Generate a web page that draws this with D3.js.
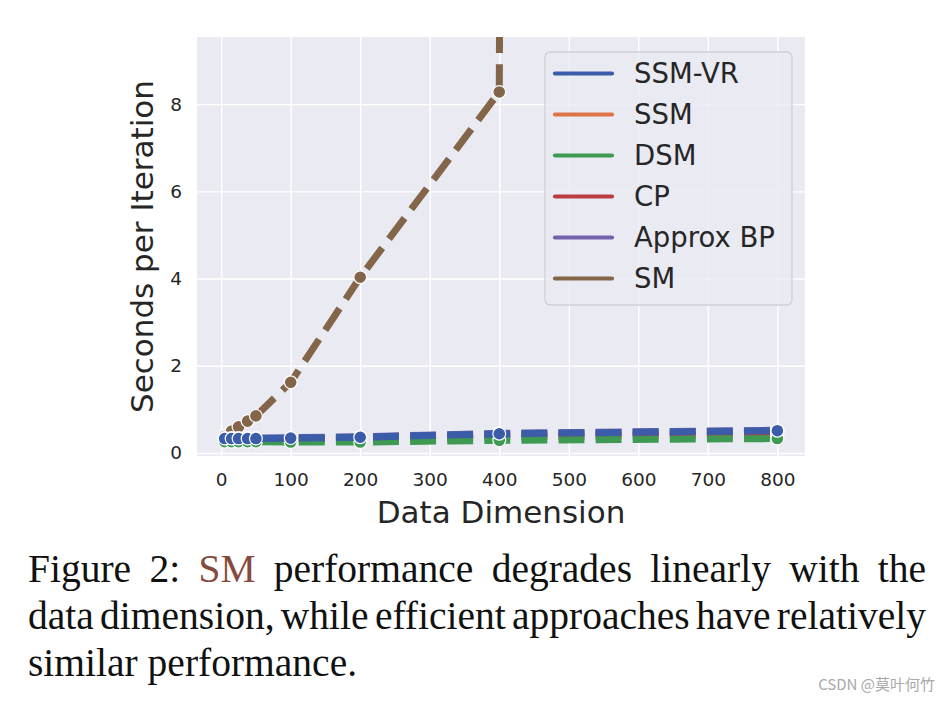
<!DOCTYPE html>
<html>
<head>
<meta charset="utf-8">
<script src="https://cdn.jsdelivr.net/npm/d3@7"></script>
<style>
  html, body { margin: 0; padding: 0; background: #ffffff; }
  svg { display: block; }
</style>
</head>
<body>
<svg id="chart" width="950" height="702"></svg>
<script>
// ---------------- data ----------------
const dims = [5, 15, 25, 38, 50, 100, 200, 400, 800];
const ssmVR   = [0.33, 0.33, 0.33, 0.33, 0.33, 0.34, 0.36, 0.44, 0.51];
const ssm     = [0.32, 0.32, 0.32, 0.32, 0.32, 0.33, 0.35, 0.43, 0.49];
const dsm     = [0.26, 0.26, 0.26, 0.26, 0.26, 0.25, 0.25, 0.29, 0.33];
const cp      = [0.30, 0.30, 0.30, 0.30, 0.30, 0.30, 0.31, 0.37, 0.42];
const approxBP= [0.34, 0.34, 0.34, 0.34, 0.34, 0.35, 0.37, 0.45, 0.52];
const sm      = [0.38, 0.50, 0.60, 0.73, 0.85, 1.62, 4.03, 8.28, 1500];
const seriesNames = ["SSM-VR", "SSM", "DSM", "CP", "Approx BP", "SM"];
const seriesColors = ["#3b5ca8", "#dd7446", "#3e9a52", "#bb3c42", "#7563ad", "#836549"];
const xTicks = [0, 100, 200, 300, 400, 500, 600, 700, 800];
const yTicks = [0, 2, 4, 6, 8];
const xLabel = "Data Dimension";
const yLabel = "Seconds per Iteration";
const captionLines = [
  [["Figure", 0], ["2:", 0], ["SM", 1], ["performance", 0], ["degrades", 0], ["linearly", 0], ["with", 0], ["the", 0]],
  [["data", 0], ["dimension,", 0], ["while", 0], ["efficient", 0], ["approaches", 0], ["have", 0], ["relatively", 0]],
  [["similar", 0], ["performance.", 0]]
];
const watermark = "CSDN @莫叶何竹";

// ---------------- layout ----------------
const svg = d3.select("#chart");
const P = { left: 197, right: 805, top: 37, bottom: 456 };
const x = d3.scaleLinear().domain([-34.75, 839.75]).range([P.left, P.right]);
const y = d3.scaleLinear().domain([-0.07, 9.54]).range([P.bottom, P.top]);

svg.append("defs").append("clipPath").attr("id", "plotclip")
  .append("rect").attr("x", P.left).attr("y", P.top)
  .attr("width", P.right - P.left).attr("height", P.bottom - P.top);

// background
svg.append("rect").attr("x", P.left).attr("y", P.top)
  .attr("width", P.right - P.left).attr("height", P.bottom - P.top)
  .attr("fill", "#eaeaf2");

// grid
const gx = svg.append("g").attr("transform", `translate(0,${P.bottom})`)
  .call(d3.axisBottom(x).tickValues(xTicks).tickSize(-(P.bottom - P.top)).tickFormat(""));
gx.select(".domain").remove();
gx.selectAll("line").attr("stroke", "#ffffff").attr("stroke-width", 1.4);
const gy = svg.append("g").attr("transform", `translate(${P.left},0)`)
  .call(d3.axisLeft(y).tickValues(yTicks).tickSize(-(P.right - P.left)).tickFormat(""));
gy.select(".domain").remove();
gy.selectAll("line").attr("stroke", "#ffffff").attr("stroke-width", 1.4);

// tick labels
const ax = svg.append("g").attr("transform", `translate(0,${P.bottom})`)
  .call(d3.axisBottom(x).tickValues(xTicks).tickSize(0).tickPadding(17).tickFormat(d3.format("d")));
ax.select(".domain").remove();
ax.selectAll("text").attr("font-family", "DejaVu Sans").attr("font-size", 18.5).attr("fill", "#262626");
const ay = svg.append("g").attr("transform", `translate(${P.left},0)`)
  .call(d3.axisLeft(y).tickValues(yTicks).tickSize(0).tickPadding(15).tickFormat(d3.format("d")));
ay.select(".domain").remove();
ay.selectAll("text").attr("font-family", "DejaVu Sans").attr("font-size", 18.5).attr("fill", "#262626");

// axis labels
svg.append("text").attr("x", (P.left + P.right) / 2).attr("y", 523)
  .attr("text-anchor", "middle").attr("font-family", "DejaVu Sans").attr("font-size", 31)
  .attr("fill", "#262626").text(xLabel);
svg.append("text").attr("transform", `translate(153,${(P.top + P.bottom) / 2}) rotate(-90)`)
  .attr("text-anchor", "middle").attr("font-family", "DejaVu Sans").attr("font-size", 31)
  .attr("fill", "#262626").text(yLabel);

// series
const allSeries = [ssmVR, ssm, dsm, cp, approxBP, sm];
const drawOrder = [5, 1, 4, 3, 2, 0]; // SM, SSM, Approx BP, CP, DSM, SSM-VR (last on top)
const plot = svg.append("g").attr("clip-path", "url(#plotclip)");
const line = d3.line().x(d => x(d[0])).y(d => y(d[1]));
drawOrder.forEach(i => {
  const pts = dims.map((d, k) => [d, allSeries[i][k]]);
  const g = plot.append("g");
  g.append("path").datum(pts).attr("d", line)
    .attr("fill", "none").attr("stroke", seriesColors[i])
    .attr("stroke-width", 7).attr("stroke-dasharray", "25.9,11.2")
    .attr("stroke-linecap", "butt").attr("stroke-linejoin", "round");
  g.selectAll("circle").data(pts).join("circle")
    .attr("cx", d => x(d[0])).attr("cy", d => y(d[1]))
    .attr("r", 6.4)
    .attr("fill", seriesColors[i]).attr("stroke", "#ffffff").attr("stroke-width", 1.2);
});

// legend
const L = { x: 545, y: 52, w: 247, h: 253 };
svg.append("rect").attr("x", L.x).attr("y", L.y).attr("width", L.w).attr("height", L.h)
  .attr("rx", 5).attr("ry", 5)
  .attr("fill", "#eaeaf2").attr("fill-opacity", 0.8)
  .attr("stroke", "#cfcfd6").attr("stroke-width", 1.3);
const legendRowY = d3.scalePoint().domain(seriesNames).range([73.5, 278.5]);
const lg = svg.append("g");
seriesNames.forEach((name, i) => {
  const yy = legendRowY(name);
  lg.append("line").attr("x1", 555).attr("x2", 612).attr("y1", yy).attr("y2", yy)
    .attr("stroke", seriesColors[i]).attr("stroke-width", 4.2).attr("stroke-linecap", "round");
  lg.append("text").attr("x", 634).attr("y", yy + 9.8)
    .attr("font-family", "DejaVu Sans").attr("font-size", 27.5).attr("fill", "#262626").text(name);
});

// caption (justified)
const capLeft = 28, capRight = 926;
const capBase = [582, 629, 676];
captionLines.forEach((words, li) => {
  const g = svg.append("g");
  const nodes = words.map(([w, hl]) => g.append("text")
    .attr("y", capBase[li]).attr("font-family", "Liberation Serif")
    .attr("font-size", 39.5).attr("fill", hl ? "#864a3d" : "#111111").text(w));
  const widths = nodes.map(n => n.node().getComputedTextLength());
  const total = d3.sum(widths);
  const justify = li < captionLines.length - 1;
  const gap = justify ? (capRight - capLeft - total) / (words.length - 1) : 39.5 * 0.25;
  let cx = capLeft;
  nodes.forEach((n, k) => { n.attr("x", cx); cx += widths[k] + gap; });
});

// watermark
svg.append("text").attr("x", 935).attr("y", 690).attr("text-anchor", "end")
  .attr("font-family", "Noto Sans CJK SC").attr("font-size", 15).attr("fill", "#a9a9a9")
  .text(watermark);
</script>
</body>
</html>
